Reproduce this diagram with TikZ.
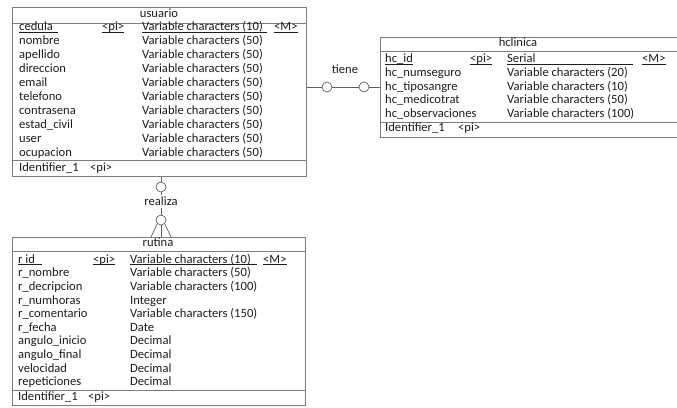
\documentclass[tikz,border=0pt]{standalone}
\usepackage{fontspec}
\setmainfont{Carlito}
\definecolor{boxgray}{RGB}{125,125,125}
\definecolor{relgray}{RGB}{95,95,95}
\definecolor{txtgray}{RGB}{30,30,30}
\newcommand{\keyul}[1]{\setbox0\hbox{#1}\rlap{\rule[-1.7pt]{\wd0}{0.6pt}}\box0}

\begin{document}
\begin{tikzpicture}[x=1pt,y=-1pt,
	tbl/.style={draw=boxgray, fill=white, line width=0.8pt, anchor=north west, inner sep=0pt},
	txt/.style={anchor=mid west, inner sep=0pt, text=txtgray, font=\fontsize{12.6}{14}\selectfont},
	ttl/.style={anchor=mid, inner sep=0pt, text=txtgray, font=\fontsize{12.6}{14}\selectfont},
	card/.style={circle, draw=relgray, fill=white, line width=0.7pt, minimum size=10pt, inner sep=0pt},
	rel/.style={draw=relgray, line width=0.7pt}]
	\useasboundingbox (0,0) rectangle (677,407);

	% usuario
	\node[tbl, minimum width=294pt, minimum height=169pt] (usuario) at (12,7) {};
	\draw[boxgray] (usuario.west |- 0,23) -- (usuario.east |- 0,23);
	\draw[boxgray] (usuario.west |- 0,160) -- (usuario.east |- 0,160);
	\node[ttl] (u-t) at (159,15) {usuario};
	\node[txt] (u-k) at (19,28.5) {\keyul{\makebox[39pt][l]{cedula}}};
	\node[txt] (u-kp) at (102,28.5) {\keyul{<pi>}};
	\node[txt] (u-kt) at (142,28.5) {\keyul{\makebox[125pt][l]{Variable characters (10)}}};
	\node[txt] (u-km) at (274,28.5) {\keyul{<M>}};
	\foreach \nm [count=\i] in {nombre,apellido,direccion,email,telefono,contrasena,estad\_civil,user,ocupacion}{
		\node[txt] (u-n\i) at (19,28.5+14*\i) {\nm};
		\node[txt] (u-t\i) at (142,28.5+14*\i) {Variable characters (50)};
	}
	\node[txt] (u-id) at (19,169.5) {Identifier\_1};
	\node[txt] (u-idp) at (90,169.5) {<pi>};

	% hclinica
	\node[tbl, minimum width=310pt, minimum height=100pt] (hclinica) at (380,37) {};
	\draw[boxgray] (hclinica.west |- 0,51) -- (hclinica.east |- 0,51);
	\draw[boxgray] (hclinica.west |- 0,122) -- (hclinica.east |- 0,122);
	\node[ttl] (h-t) at (518,44) {hclinica};
	\node[txt] (h-k) at (385,60.5) {\keyul{hc\_id}};
	\node[txt] (h-kp) at (470,60.5) {\keyul{<pi>}};
	\node[txt] (h-kt) at (507,60.5) {\keyul{\makebox[126pt][l]{Serial}}};
	\node[txt] (h-km) at (642,60.5) {\keyul{<M>}};
	\foreach \nm/\ty [count=\i] in {hc\_numseguro/Variable characters (20),
		hc\_tiposangre/Variable characters (10),
		hc\_medicotrat/Variable characters (50),
		hc\_observaciones/Variable characters (100)}{
		\node[txt] (h-n\i) at (385,60.5+13.6*\i) {\nm};
		\node[txt] (h-t\i) at (507,60.5+13.6*\i) {\ty};
	}
	\node[txt] (h-id) at (385,129.5) {Identifier\_1};
	\node[txt] (h-idp) at (458,129.5) {<pi>};

	% rutina
	\node[tbl, minimum width=293pt, minimum height=168pt] (rutina) at (12,237) {};
	\draw[boxgray] (rutina.west |- 0,251) -- (rutina.east |- 0,251);
	\draw[boxgray] (rutina.west |- 0,390.5) -- (rutina.east |- 0,390.5);
	\node[ttl] (r-t) at (158,244) {rutina};
	\node[txt] (r-k) at (18,261) {\keyul{\makebox[24pt][l]{r id}}};
	\node[txt] (r-kp) at (93,261) {\keyul{<pi>}};
	\node[txt] (r-kt) at (130,261) {\keyul{\makebox[127pt][l]{Variable characters (10)}}};
	\node[txt] (r-km) at (263,261) {\keyul{<M>}};
	\foreach \nm/\ty [count=\i] in {r\_nombre/Variable characters (50),
		r\_decripcion/Variable characters (100),
		r\_numhoras/Integer,
		r\_comentario/Variable characters (150),
		r\_fecha/Date,
		angulo\_inicio/Decimal,
		angulo\_final/Decimal,
		velocidad/Decimal,
		repeticiones/Decimal}{
		\node[txt] (r-n\i) at (18,261+13.6*\i) {\nm};
		\node[txt] (r-t\i) at (130,261+13.6*\i) {\ty};
	}
	\node[txt] (r-id) at (18,398) {Identifier\_1};
	\node[txt] (r-idp) at (88,398) {<pi>};

	% tiene
	\node[ttl] (tiene) at (345,71) {tiene};
	\node[card] (t1) at (327,87) {};
	\node[card] (t2) at (364,87) {};
	\draw[rel] (usuario.east |- t1) -- (t1) -- (t2) -- (hclinica.west |- t2);

	% realiza
	\node[ttl, inner sep=2pt] (realiza) at (161,203.5) {realiza};
	\node[card] (r1) at (161,187) {};
	\node[card] (r2) at (161,220) {};
	\draw[rel] (usuario.south -| r1) -- (r1) -- (realiza) -- (r2);
	\draw[rel] (r2.south west) -- (rutina.north -| 151,0);
	\draw[rel] (r2.south) -- (rutina.north -| r2);
	\draw[rel] (r2.south east) -- (rutina.north -| 171,0);
\end{tikzpicture}
\end{document}
